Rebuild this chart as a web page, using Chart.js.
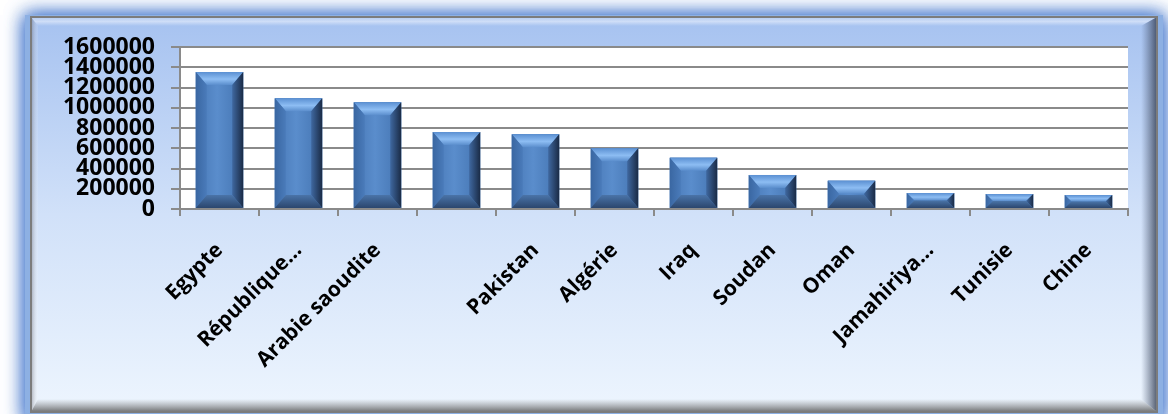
<!DOCTYPE html>
<html>
<head>
<meta charset="utf-8">
<script src="https://cdn.jsdelivr.net/npm/chart.js@4.4.1/dist/chart.umd.min.js"></script>
<style>
  html, body { margin: 0; padding: 0; background: #fff; }
  #wrap { width: 1168px; height: 414px; position: relative; }
</style>
</head>
<body>
<div id="wrap"><canvas id="chart"></canvas></div>
<script>
// data
const countries = ["Egypte", "République…", "Arabie saoudite", "", "Pakistan", "Algérie",
  "Iraq", "Soudan", "Oman", "Jamahiriya…", "Tunisie", "Chine"];
const values = [1353000, 1093000, 1054000, 760000, 738000, 600000,
  507000, 336000, 280000, 158000, 148000, 138000];
const yMax = 1600000;
const yStep = 200000;

const gridGray = "#8a8a8a";

// blue panel with bevelled edges, and white plot area
const framePlugin = {
  id: "frame",
  beforeDraw(chart) {
    const ctx = chart.ctx;
    const L = 31, T = 17, R = 1157, B = 412;
    ctx.save();
    ctx.fillStyle = "#fff";
    ctx.fillRect(0, 0, chart.width, chart.height);

    // blue glow around the panel
    ctx.shadowColor = "rgba(70,120,205,0.95)";
    ctx.shadowBlur = 18;
    ctx.fillStyle = "#8db0e3";
    ctx.fillRect(L - 6, T - 2, R - L + 12, B - T + 12);
    ctx.fillRect(L - 6, T - 2, R - L + 12, B - T + 12);
    ctx.shadowColor = "transparent";
    ctx.shadowBlur = 0;

    const g = ctx.createLinearGradient(0, T, 0, B);
    g.addColorStop(0, "#a6c2f0");
    g.addColorStop(0.5, "#d1e1f9");
    g.addColorStop(1, "#edf5fe");
    ctx.fillStyle = g;
    ctx.fillRect(L, T, R - L, B - T);

    const dT = 9, dL = 7, dR = 16, dB = 13;
    // top bevel
    let gr = ctx.createLinearGradient(0, T, 0, T + dT);
    gr.addColorStop(0, "rgba(255,255,255,0.15)");
    gr.addColorStop(0.5, "rgba(255,255,255,0.45)");
    gr.addColorStop(1, "rgba(255,255,255,0)");
    ctx.fillStyle = gr;
    ctx.beginPath();
    ctx.moveTo(L, T); ctx.lineTo(R, T); ctx.lineTo(R - dR, T + dT); ctx.lineTo(L + dL, T + dT);
    ctx.closePath(); ctx.fill();
    // left bevel
    gr = ctx.createLinearGradient(L, 0, L + dL, 0);
    gr.addColorStop(0, "rgba(90,90,100,0.45)");
    gr.addColorStop(1, "rgba(255,255,255,0.1)");
    ctx.fillStyle = gr;
    ctx.beginPath();
    ctx.moveTo(L, T); ctx.lineTo(L + dL, T + dT); ctx.lineTo(L + dL, B - dB); ctx.lineTo(L, B);
    ctx.closePath(); ctx.fill();
    // right bevel
    gr = ctx.createLinearGradient(R - dR, 0, R, 0);
    gr.addColorStop(0, "rgba(80,95,125,0)");
    gr.addColorStop(1, "rgba(55,65,85,0.85)");
    ctx.fillStyle = gr;
    ctx.beginPath();
    ctx.moveTo(R, T); ctx.lineTo(R, B); ctx.lineTo(R - dR, B - dB); ctx.lineTo(R - dR, T + dT);
    ctx.closePath(); ctx.fill();
    // bottom bevel
    gr = ctx.createLinearGradient(0, B - dB, 0, B);
    gr.addColorStop(0, "rgba(110,110,110,0)");
    gr.addColorStop(1, "rgba(80,80,80,0.8)");
    ctx.fillStyle = gr;
    ctx.beginPath();
    ctx.moveTo(L, B); ctx.lineTo(R, B); ctx.lineTo(R - dR, B - dB); ctx.lineTo(L + dL, B - dB);
    ctx.closePath(); ctx.fill();

    ctx.strokeStyle = "#7c7c7c";
    ctx.lineWidth = 2;
    ctx.strokeRect(L, T, R - L, B - T);

    const a = chart.chartArea;
    ctx.fillStyle = "#fff";
    ctx.fillRect(a.left, a.top, a.right - a.left, a.bottom - a.top);
    ctx.restore();
  }
};

// bevel look on each bar, using the bar element geometry
const bevelPlugin = {
  id: "bevel",
  afterDatasetsDraw(chart) {
    const ctx = chart.ctx;
    chart.getDatasetMeta(0).data.forEach((bar) => {
      const p = bar.getProps(["x", "y", "base", "width"], true);
      const l = p.x - p.width / 2, r = p.x + p.width / 2;
      const t = Math.min(p.y, p.base), b = Math.max(p.y, p.base);
      const h = b - t;
      if (h <= 0) return;
      const dy = Math.min(13, h / 2);
      const dx = Math.min(11, dy);
      ctx.save();

      let g = ctx.createLinearGradient(l, 0, r, 0);
      g.addColorStop(0, "#4777b5");
      g.addColorStop(0.45, "#5a8dcc");
      g.addColorStop(1, "#4373b0");
      ctx.fillStyle = g;
      ctx.fillRect(l, t, r - l, h);

      // top
      g = ctx.createLinearGradient(0, t, 0, t + dy);
      g.addColorStop(0, "#5b90d2");
      g.addColorStop(0.55, "#8dbdf3");
      g.addColorStop(1, "#5a8dcc");
      ctx.fillStyle = g;
      ctx.beginPath();
      ctx.moveTo(l, t); ctx.lineTo(r, t); ctx.lineTo(r - dx, t + dy); ctx.lineTo(l + dx, t + dy);
      ctx.closePath(); ctx.fill();

      // left
      g = ctx.createLinearGradient(l, 0, l + dx, 0);
      g.addColorStop(0, "#3a67a2");
      g.addColorStop(1, "#4a7bba");
      ctx.fillStyle = g;
      ctx.beginPath();
      ctx.moveTo(l, t); ctx.lineTo(l + dx, t + dy); ctx.lineTo(l + dx, b - dy); ctx.lineTo(l, b);
      ctx.closePath(); ctx.fill();

      // right
      g = ctx.createLinearGradient(r - dx, 0, r, 0);
      g.addColorStop(0, "#3f68a0");
      g.addColorStop(1, "#1a2b46");
      ctx.fillStyle = g;
      ctx.beginPath();
      ctx.moveTo(r, t); ctx.lineTo(r, b); ctx.lineTo(r - dx, b - dy); ctx.lineTo(r - dx, t + dy);
      ctx.closePath(); ctx.fill();

      // bottom
      g = ctx.createLinearGradient(0, b - dy, 0, b);
      g.addColorStop(0, "#4a74a8");
      g.addColorStop(1, "#2b466e");
      ctx.fillStyle = g;
      ctx.beginPath();
      ctx.moveTo(l, b); ctx.lineTo(r, b); ctx.lineTo(r - dx, b - dy); ctx.lineTo(l + dx, b - dy);
      ctx.closePath(); ctx.fill();

      ctx.restore();
    });
  }
};

new Chart(document.getElementById("chart"), {
  type: "bar",
  data: {
    labels: countries,
    datasets: [{
      data: values,
      backgroundColor: "#4f81bd",
      barPercentage: 0.6,
      categoryPercentage: 1.0
    }]
  },
  options: {
    responsive: true,
    maintainAspectRatio: false,
    animation: false,
    layout: { padding: { left: 40, top: 47, right: 40, bottom: 0 } },
    plugins: { legend: { display: false }, tooltip: { enabled: false } },
    scales: {
      x: {
        afterFit: (s) => { s.height = 205; },
        grid: { drawOnChartArea: false, color: gridGray, lineWidth: 2, tickLength: 7 },
        border: { color: gridGray, width: 2 },
        ticks: {
          autoSkip: false,
          maxRotation: 45,
          minRotation: 45,
          padding: 22,
          color: "#000",
          font: { family: "'Open Sans', sans-serif", size: 21, weight: "bold" }
        }
      },
      y: {
        min: 0,
        max: yMax,
        afterFit: (s) => { s.width = 140; },
        grid: { color: gridGray, lineWidth: 2, tickLength: 9 },
        border: { color: gridGray, width: 2 },
        ticks: {
          stepSize: yStep,
          autoSkip: false,
          padding: 16,
          color: "#000",
          font: { family: "'Open Sans', sans-serif", size: 23, weight: "bold" },
          callback: (v) => String(v)
        }
      }
    }
  },
  plugins: [framePlugin, bevelPlugin]
});
</script>
</body>
</html>
